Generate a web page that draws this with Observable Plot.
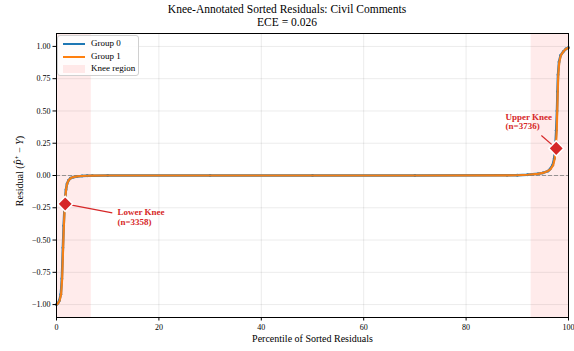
<!DOCTYPE html>
<html>
<head>
<meta charset="utf-8">
<script src="https://cdn.jsdelivr.net/npm/d3@7"></script>
<script src="https://cdn.jsdelivr.net/npm/@observablehq/plot@0.6"></script>
<style>
  html, body { margin: 0; padding: 0; background: #fff; }
  #wrap { position: relative; width: 574px; height: 351px; font-family: "Liberation Serif", "Times New Roman", "DejaVu Serif", serif; }
  #title { height: 30px; box-sizing: border-box; padding-top: 3px; text-align: center; font-size: 11.5px; line-height: 12.5px; color: #000; }
  #legend { position: absolute; left: 57px; top: 35px; width: 82px; height: 41px; background: rgba(255,255,255,0.85); border: 1px solid #d0d0d0; border-radius: 3px; font-size: 9px; box-sizing: border-box; }
  .item { position: absolute; left: 5px; height: 10px; }
  .sw { position: absolute; left: 0; width: 22px; }
  .lab { position: absolute; left: 28px; top: -1px; white-space: nowrap; color: #000; line-height: 10px; }
</style>
</head>
<body>
<div id="wrap">
  <div id="title">Knee-Annotated Sorted Residuals: Civil Comments<br>ECE = 0.026</div>
  <div id="chart"></div>
  <div id="legend"></div>
</div>
<script>
// ---- data ----
const pct0 = [0,0.25,0.55,0.85,1.05,1.25,1.4,1.55,1.7,1.85,2.05,2.35,2.75,3.25,4,5,6,7,10,30,50,70,88,90,92,94,95,96,96.4,96.9,97.2,97.4,97.6,97.75,97.85,97.95,98.15,98.45,99,99.5,100];
const res0 = [-1.0,-0.99,-0.97,-0.92,-0.80,-0.56,-0.39,-0.26,-0.17,-0.11,-0.065,-0.037,-0.021,-0.013,-0.007,-0.004,-0.002,-0.001,0,0,0,0,0.001,0.002,0.006,0.013,0.02,0.034,0.05,0.08,0.13,0.2,0.35,0.5,0.65,0.78,0.88,0.93,0.96,0.98,0.99];
const pct1 = [0,0.3,0.6,0.9,1.1,1.3,1.45,1.6,1.75,1.9,2.1,2.4,2.8,3.3,4,5,6,7,10,30,50,70,88,90,92,94,95,96,96.5,97,97.3,97.5,97.7,97.8,97.9,98.0,98.2,98.5,99,99.5,100];
const res1 = [-1.0,-0.99,-0.97,-0.92,-0.80,-0.55,-0.38,-0.25,-0.16,-0.10,-0.06,-0.035,-0.02,-0.012,-0.007,-0.004,-0.002,-0.001,0,0,0,0,0.001,0.002,0.006,0.013,0.02,0.035,0.05,0.08,0.13,0.2,0.35,0.5,0.65,0.78,0.88,0.93,0.96,0.98,0.99];

const kneeNames = ["Lower Knee\n(n=3358)", "Upper Knee\n(n=3736)"];
const kneeX = [1.7, 97.6];
const kneeY = [-0.22, 0.21];
const kneeTextX = [11.9, 87.7];
const kneeTextY = [-0.32, 0.42];
const kneeArrowX = [10.9, 94.7];
const kneeArrowY = [-0.29, 0.31];

const regionStart = [0, 92.7];
const regionEnd = [6.8, 100];

const xTicks = [0, 20, 40, 60, 80, 100];
const yTicks = [-1.0, -0.75, -0.5, -0.25, 0, 0.25, 0.5, 0.75, 1.0];

const groupNames = ["Group 0", "Group 1"];
const groupColors = ["#1f77b4", "#ff7f0e"];
const kneeColor = "#d62728";
const regionColor = "#ff0000";

// ---- build tables ----
const g0 = pct0.map((p, i) => ({x: p, y: res0[i]}));
const g1 = pct1.map((p, i) => ({x: p, y: res1[i]}));
const knees = kneeNames.map((n, i) => ({name: n, x: kneeX[i], y: kneeY[i], tx: kneeTextX[i], ty: kneeTextY[i], ax: kneeArrowX[i], ay: kneeArrowY[i]}));
const regions = regionStart.map((s, i) => ({s, e: regionEnd[i]}));

const plot = Plot.plot({
  width: 574,
  height: 321,
  marginTop: 3,
  marginBottom: 34,
  marginLeft: 56,
  marginRight: 6,
  style: {fontFamily: "Liberation Serif, Times New Roman, serif", fontSize: "8px", color: "#000", background: "#fff"},
  x: {domain: [0, 100]},
  y: {domain: [-1.1, 1.1]},
  marks: [
    Plot.rect(regions, {x1: "s", x2: "e", fill: regionColor, fillOpacity: 0.08}),
    Plot.gridX(xTicks, {stroke: "#000", strokeOpacity: 0.1, strokeWidth: 0.8}),
    Plot.gridY(yTicks, {stroke: "#000", strokeOpacity: 0.1, strokeWidth: 0.8}),
    Plot.ruleY([0], {stroke: "#808080", strokeDasharray: "4,2", strokeOpacity: 0.8, strokeWidth: 1}),
    Plot.line(g0, {x: "x", y: "y", stroke: groupColors[0], strokeWidth: 2.5}),
    Plot.dot(g0, {x: "x", y: "y", r: 1.4, fill: groupColors[0]}),
    Plot.line(g1, {x: "x", y: "y", stroke: groupColors[1], strokeWidth: 2.2, strokeOpacity: 0.95}),
    Plot.link(knees, {x1: "x", y1: "y", x2: "ax", y2: "ay", stroke: kneeColor, strokeWidth: 1.2}),
    Plot.dot(knees, {x: "x", y: "y", symbol: "diamond2", r: 6.8, fill: kneeColor, stroke: "#fff", strokeWidth: 1.5}),
    Plot.text(knees, {x: "tx", y: "ty", text: "name", textAnchor: "start", fill: kneeColor, fontWeight: "bold", fontSize: 9, lineHeight: 1.1}),
    Plot.frame({stroke: "#000", strokeWidth: 1}),
    Plot.axisX(xTicks, {tickSize: 3.5, tickPadding: 3, tickFormat: d => String(d), label: null, fontSize: 8}),
    Plot.axisY(yTicks, {tickSize: 3.5, tickPadding: 2.5, tickFormat: d3.format(".2f"), label: null, fontSize: 8}),
    Plot.text(["Percentile of Sorted Residuals"], {frameAnchor: "bottom", dy: 24, fontSize: 10, fill: "#000"})
  ]
});
document.getElementById("chart").appendChild(plot);

// Y axis label with math styling
const svg = d3.select(plot);
const yl = svg.append("text")
  .attr("transform", "translate(21,141) rotate(-90)")
  .attr("text-anchor", "middle")
  .attr("dominant-baseline", "middle")
  .attr("font-size", 10)
  .attr("font-family", "Liberation Serif, Times New Roman, serif")
  .attr("fill", "#000");
yl.append("tspan").text("Residual (");
yl.append("tspan").attr("font-style", "italic").text("P\u0302");
yl.append("tspan").attr("font-size", 7).attr("dy", -4).text("+");
yl.append("tspan").attr("dy", 4).text(" \u2212 ");
yl.append("tspan").attr("font-style", "italic").text("Y");
yl.append("tspan").text(")");

// Legend
const legend = document.getElementById("legend");
const items = [
  {label: groupNames[0], type: "line", color: groupColors[0]},
  {label: groupNames[1], type: "line", color: groupColors[1]},
  {label: "Knee region", type: "patch", color: regionColor}
];
items.forEach((it, i) => {
  const d = document.createElement("div");
  d.className = "item";
  d.style.top = (3 + i * 12.5) + "px";
  const sw = document.createElement("div");
  sw.className = "sw";
  if (it.type === "line") {
    sw.style.top = "4px"; sw.style.height = "2px"; sw.style.background = it.color;
  } else {
    sw.style.top = "1px"; sw.style.height = "8px"; sw.style.background = it.color; sw.style.opacity = "0.08";
  }
  const lb = document.createElement("div");
  lb.className = "lab";
  lb.textContent = it.label;
  d.appendChild(sw); d.appendChild(lb);
  legend.appendChild(d);
});
</script>
</body>
</html>
